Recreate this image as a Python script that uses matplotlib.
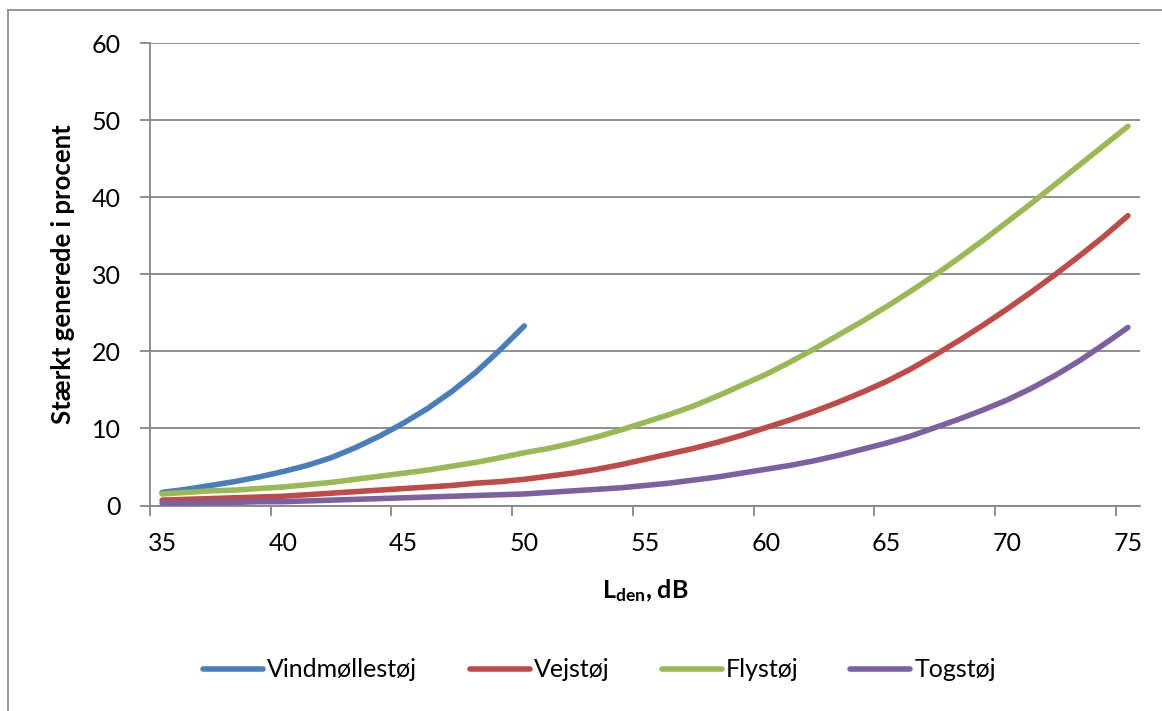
import matplotlib
matplotlib.use("Agg")
import matplotlib.pyplot as plt
from matplotlib.lines import Line2D
import numpy as np

# L_den in dB, one point per dB
lden_wind = list(range(35, 51))
lden_other = list(range(35, 76))

# Stærkt generede i procent
vindmolle = [1.7, 2.1, 2.6, 3.1, 3.7, 4.4, 5.2, 6.2, 7.5, 9.0, 10.7, 12.6, 14.8,
             17.3, 20.2, 23.3]
vej = [0.7, 0.8, 0.9, 1.0, 1.1, 1.2, 1.4, 1.6, 1.8, 2.0, 2.2, 2.4, 2.6, 2.9, 3.1,
       3.4, 3.8, 4.2, 4.7, 5.3, 6.0, 6.7, 7.4, 8.2, 9.1, 10.1, 11.1, 12.2, 13.4,
       14.7, 16.1, 17.7, 19.5, 21.4, 23.4, 25.5, 27.7, 30.0, 32.4, 34.9, 37.6]
fly = [1.5, 1.7, 1.9, 2.0, 2.2, 2.4, 2.7, 3.0, 3.4, 3.8, 4.2, 4.6, 5.1, 5.6, 6.2,
       6.85, 7.4, 8.1, 8.9, 9.8, 10.8, 11.8, 12.9, 14.2, 15.6, 17.0, 18.6, 20.3,
       22.1, 23.9, 25.8, 27.8, 29.9, 32.1, 34.4, 36.8, 39.2, 41.7, 44.2, 46.7, 49.2]
tog = [0.3, 0.3, 0.4, 0.4, 0.5, 0.5, 0.6, 0.7, 0.8, 0.9, 1.0, 1.1, 1.2, 1.3, 1.4,
       1.5, 1.7, 1.9, 2.1, 2.3, 2.6, 2.9, 3.3, 3.7, 4.2, 4.7, 5.2, 5.8, 6.5, 7.3,
       8.1, 9.0, 10.1, 11.2, 12.4, 13.7, 15.2, 16.9, 18.8, 20.9, 23.1]

labels = ["Vindmøllestøj", "Vejstøj", "Flystøj", "Togstøj"]
colors = ["#4A7EBB", "#BE4B48", "#98B954", "#7D60A0"]
xtick_labels = [35, 40, 45, 50, 55, 60, 65, 70, 75]

plt.rcParams['font.family'] = ['Lato', 'DejaVu Sans']
plt.rcParams['mathtext.fontset'] = 'custom'
plt.rcParams['mathtext.rm'] = 'Lato'
plt.rcParams['mathtext.bf'] = 'Lato:bold'

grey = "#868686"

fig = plt.figure(figsize=(11.62, 7.11), dpi=100)
ax = fig.add_axes([0.1291, 0.289, 0.852, 0.6505])

series = [(lden_wind, vindmolle), (lden_other, vej), (lden_other, fly), (lden_other, tog)]
for (x, y), lab, c in zip(series, labels, colors):
    ax.plot(x, y, color=c, lw=4.0, solid_capstyle='round', solid_joinstyle='round',
            label=lab, zorder=3)

ax.set_xlim(34.5, 75.5)
ax.set_ylim(0, 60)
ax.set_yticks(range(0, 61, 10))
ax.yaxis.grid(True, color=grey, lw=1.3)
ax.set_axisbelow(True)

# ticks on category boundaries, labels centred on the values
ax.set_xticks([v - 0.5 for v in xtick_labels])
ax.set_xticklabels([])
ax.set_xticks(xtick_labels, minor=True)
ax.set_xticklabels([str(v) for v in xtick_labels], minor=True)
ax.tick_params(axis='x', which='major', length=7, width=1.3, color=grey, direction='out')
ax.tick_params(axis='x', which='minor', length=0, pad=19, labelsize=18)
ax.tick_params(axis='y', length=7, width=1.3, color=grey, direction='out', pad=14,
               labelsize=18)

for s in ['top', 'right']:
    ax.spines[s].set_visible(False)
for s in ['left', 'bottom']:
    ax.spines[s].set_color(grey)
    ax.spines[s].set_linewidth(1.3)

ax.set_ylabel("Stærkt generede i procent", fontsize=18.5, fontweight='bold', labelpad=12)
ax.set_xlabel(r"$\mathbf{L_{den}}$, dB", fontsize=18, fontweight='bold', labelpad=16)

fig.legend(loc='center', bbox_to_anchor=(0.516, 0.058), ncol=4, frameon=False,
           fontsize=18, handlelength=2.4, handletextpad=0.15, columnspacing=2.1)

# outer chart border (only left and top are inside the picture)
fig.add_artist(Line2D([8 / 1162, 8 / 1162], [0, 1 - 10 / 711], transform=fig.transFigure,
                      color="#8c8c8c", lw=1.3))
fig.add_artist(Line2D([8 / 1162, 1], [1 - 10 / 711, 1 - 10 / 711], transform=fig.transFigure,
                      color="#8c8c8c", lw=1.3))

fig.savefig("out.png", dpi=100, facecolor='white')
